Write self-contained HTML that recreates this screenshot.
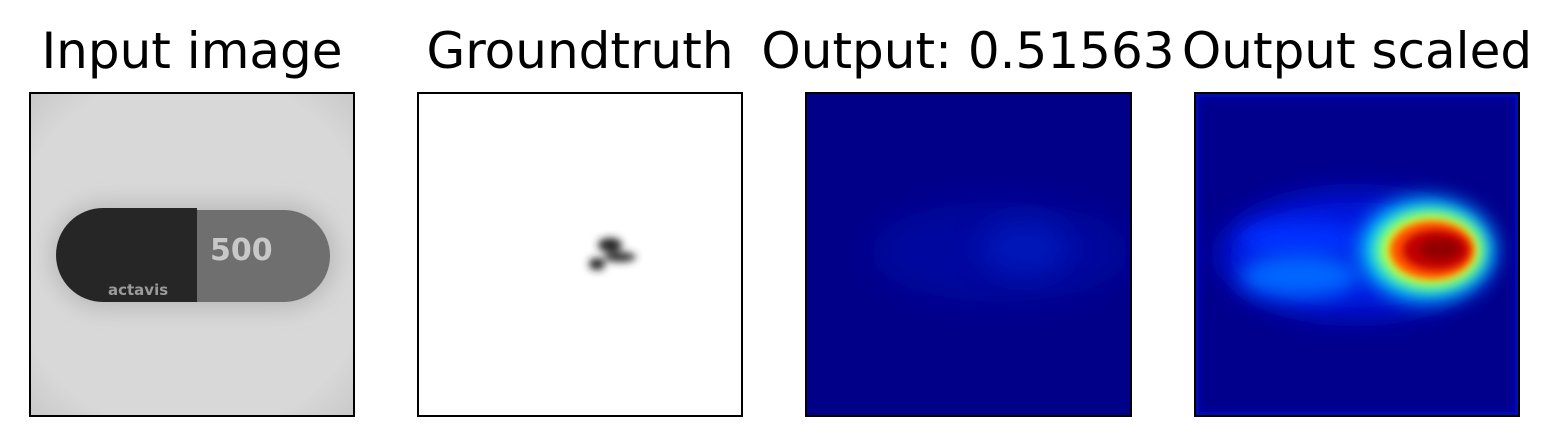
<!DOCTYPE html>
<html><head><meta charset="utf-8"><style>
body{margin:0;background:#fff;}
svg{display:block}
text{font-family:"DejaVu Sans","Liberation Sans",sans-serif;font-size:50px;fill:#000}
</style></head><body>
<svg width="1561" height="446" viewBox="0 0 1561 446">
<defs>
<filter id="b4" x="-100%" y="-100%" width="300%" height="300%"><feGaussianBlur stdDeviation="4"/></filter>
<filter id="b8" x="-100%" y="-100%" width="300%" height="300%"><feGaussianBlur stdDeviation="8"/></filter>
<filter id="b10" x="-100%" y="-100%" width="300%" height="300%"><feGaussianBlur stdDeviation="10"/></filter>
<filter id="b14" x="-100%" y="-100%" width="300%" height="300%"><feGaussianBlur stdDeviation="14"/></filter>
<filter id="b20" x="-100%" y="-100%" width="300%" height="300%"><feGaussianBlur stdDeviation="20"/></filter>
<radialGradient id="vig" cx="50%" cy="50%" r="75%"><stop offset="0.75" stop-color="#d8d8d8"/><stop offset="1" stop-color="#c4c4c4"/></radialGradient>
<clipPath id="c1"><rect x="30" y="93" width="324" height="323"/></clipPath>
<clipPath id="c3"><rect x="806" y="93" width="325" height="323"/></clipPath>
<clipPath id="c4"><rect x="1195" y="93" width="324" height="323"/></clipPath>
</defs>
<text x="192" y="68" text-anchor="middle">Input image</text>
<text x="580" y="68" text-anchor="middle">Groundtruth</text>
<text x="968" y="68" text-anchor="middle">Output: 0.51563</text>
<text x="1357" y="68" text-anchor="middle">Output scaled</text>

<g clip-path="url(#c1)">
<rect x="30" y="93" width="324" height="323" fill="url(#vig)"/>
<rect x="50" y="202" width="287" height="108" rx="54" fill="#b0b0b0" filter="url(#b10)" opacity="0.7"/>
<rect x="110" y="210" width="220" height="92" rx="46" fill="#6f6f6f"/>
<path d="M103 208 H197 V302 H103 A47 47 0 0 1 103 208Z" fill="#262626"/>
<text x="210" y="260" style="fill:#c8c8c8;font-size:30px;font-weight:bold">500</text>
<text x="108" y="295" style="fill:#9a9a9a;font-size:15px;font-weight:bold">actavis</text>
</g>
<rect x="30" y="93" width="324" height="323" fill="none" stroke="#000" stroke-width="2"/>

<g>
<rect x="418" y="93" width="324" height="323" fill="#fff"/>
<g filter="url(#b4)"><ellipse cx="610" cy="245" rx="12" ry="7" fill="#222"/><ellipse cx="620" cy="257" rx="16" ry="5" fill="#333"/><ellipse cx="597" cy="264" rx="8" ry="6" fill="#222"/></g>
</g>
<rect x="418" y="93" width="324" height="323" fill="none" stroke="#000" stroke-width="2"/>

<g clip-path="url(#c3)">
<rect x="806" y="93" width="325" height="323" fill="#000088"/>
<ellipse cx="1000" cy="252" rx="130" ry="50" fill="#0010b0" filter="url(#b20)" opacity="0.6"/>
<ellipse cx="1025" cy="248" rx="45" ry="28" fill="#0020c8" filter="url(#b14)" opacity="0.6"/>
</g>
<rect x="806" y="93" width="325" height="323" fill="none" stroke="#000" stroke-width="2"/>

<g clip-path="url(#c4)">
<rect x="1195" y="93" width="324" height="323" fill="#00008c"/>
<rect x="1195" y="93" width="324" height="323" fill="none" stroke="#0010c0" stroke-width="8" filter="url(#b4)"/>
<ellipse cx="1355" cy="255" rx="135" ry="62" fill="#0018e0" filter="url(#b14)"/>
<ellipse cx="1300" cy="240" rx="60" ry="18" fill="#0030ff" filter="url(#b10)"/>
<ellipse cx="1300" cy="276" rx="60" ry="22" fill="#0068ff" filter="url(#b10)"/>
<ellipse cx="1427" cy="250" rx="68" ry="52" fill="#00b8ff" filter="url(#b10)"/>
<ellipse cx="1429" cy="250" rx="55" ry="40" fill="#40ffc0" filter="url(#b8)"/>
<ellipse cx="1431" cy="250" rx="48" ry="34" fill="#ffff00" filter="url(#b8)"/>
<ellipse cx="1432" cy="250" rx="42" ry="29" fill="#ff5000" filter="url(#b4)"/>
<ellipse cx="1436" cy="250" rx="33" ry="20" fill="#c00000" filter="url(#b4)"/>
<ellipse cx="1440" cy="249" rx="20" ry="10" fill="#900000" filter="url(#b4)"/>
</g>
<rect x="1195" y="93" width="324" height="323" fill="none" stroke="#000" stroke-width="2"/>
</svg>
</body></html>
